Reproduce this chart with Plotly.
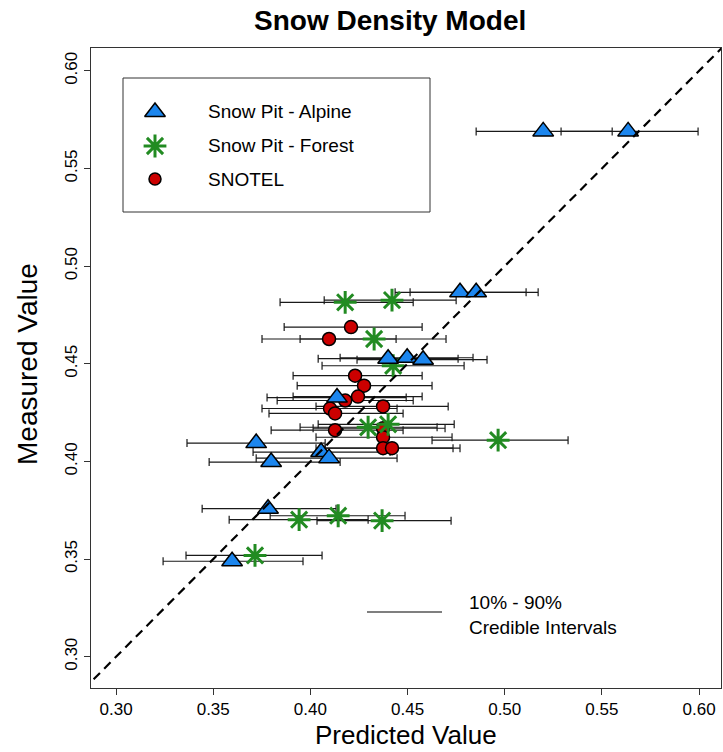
import plotly.graph_objects as go

# ---------------- data ----------------
# Snow Pit - Alpine
alp_pred = [0.5198, 0.5635, 0.4770, 0.4853, 0.4400, 0.4498, 0.4580, 0.4137,
            0.3721, 0.4055, 0.4096, 0.3798, 0.3782, 0.3597]
alp_meas = [0.5690, 0.5690, 0.4866, 0.4866, 0.4526, 0.4531, 0.4521, 0.4327,
            0.4094, 0.4048, 0.4017, 0.3997, 0.3758, 0.3489]
alp_lo = [0.4853, 0.5290, 0.4436, 0.4513, 0.4040, 0.4153, 0.4240, 0.3777,
          0.3365, 0.3705, 0.3721, 0.3479, 0.3443, 0.3242]
alp_hi = [0.5553, 0.5995, 0.5110, 0.5172, 0.4760, 0.4837, 0.4909, 0.4493,
          0.4076, 0.4410, 0.4446, 0.4153, 0.4132, 0.3962]

# Snow Pit - Forest
for_pred = [0.4179, 0.4420, 0.4328, 0.4426, 0.4297, 0.4400, 0.4966, 0.4143,
            0.3942, 0.4369, 0.3715]
for_meas = [0.4815, 0.4826, 0.4627, 0.4490, 0.4175, 0.4190, 0.4109, 0.3722,
            0.3702, 0.3697, 0.3519]
for_lo = [0.3844, 0.4071, 0.3947, 0.4060, 0.3947, 0.4040, 0.4626, 0.3793,
          0.3582, 0.4034, 0.3360]
for_hi = [0.4529, 0.4750, 0.4698, 0.4791, 0.4652, 0.4740, 0.5326, 0.4487,
          0.4297, 0.4724, 0.4060]

# SNOTEL
sno_pred = [0.4209, 0.4096, 0.4230, 0.4276, 0.4245, 0.4179, 0.4101, 0.4127,
            0.4374, 0.4127, 0.4374, 0.4374, 0.4374, 0.4420]
sno_meas = [0.4688, 0.4627, 0.4439, 0.4388, 0.4332, 0.4312, 0.4271, 0.4246,
            0.4282, 0.4160, 0.4170, 0.4124, 0.4068, 0.4068]
sno_lo = [0.3865, 0.3751, 0.3911, 0.3932, 0.3911, 0.3829, 0.3751, 0.3787,
          0.4029, 0.3798, 0.4014, 0.4029, 0.4029, 0.4076]
sno_hi = [0.4575, 0.4441, 0.4575, 0.4626, 0.4575, 0.4529, 0.4446, 0.4477,
          0.4709, 0.4477, 0.4693, 0.4729, 0.4734, 0.4770]

tick_vals = [0.30, 0.35, 0.40, 0.45, 0.50, 0.55, 0.60]
tick_text = ["0.30", "0.35", "0.40", "0.45", "0.50", "0.55", "0.60"]
legend_labels = ["Snow Pit - Alpine", "Snow Pit - Forest", "SNOTEL"]

X_RANGE = [0.2871, 0.6113]
Y_RANGE = [0.284, 0.6117]

# ---------------- styles ----------------
FONT = "Liberation Sans, Arial, sans-serif"
BLUE = "#1C86EE"
GREEN = "#228B22"
RED = "#CC0000"
BAR = "#1a1a1a"

# plot area in pixels: x 91..721, y 48..688
M_L, M_R, M_T, M_B = 91, 2, 48, 64
W, H = 723, 752
PW, PH = W - M_L - M_R, H - M_T - M_B
BOTTOM = H - M_B


def px_x(p):
    return (p - M_L) / PW


def px_y(p):
    return (BOTTOM - p) / PH


fig = go.Figure()


def err_trace(xs, ys, lo, hi):
    return go.Scatter(
        x=xs, y=ys, mode="markers",
        marker=dict(size=1, opacity=0),
        error_x=dict(type="data", symmetric=False,
                     array=[h - x for h, x in zip(hi, xs)],
                     arrayminus=[x - l for x, l in zip(xs, lo)],
                     color=BAR, thickness=1.2, width=4),
        showlegend=False, hoverinfo="skip")


# error bars first (drawn beneath all points)
fig.add_trace(err_trace(alp_pred, alp_meas, alp_lo, alp_hi))
fig.add_trace(err_trace(for_pred, for_meas, for_lo, for_hi))
fig.add_trace(err_trace(sno_pred, sno_meas, sno_lo, sno_hi))

circle_marker = dict(symbol="circle", size=13, color=RED,
                     line=dict(color="black", width=1.5))
star_marker = dict(symbol="asterisk-open", size=19, color=GREEN,
                   line=dict(color=GREEN, width=3))
tri_marker = dict(symbol="triangle-up", size=18, color=BLUE,
                  line=dict(color="black", width=1.5))

fig.add_trace(go.Scatter(x=sno_pred, y=sno_meas, mode="markers",
                         marker=circle_marker, name=legend_labels[2],
                         showlegend=False))
fig.add_trace(go.Scatter(x=for_pred, y=for_meas, mode="markers",
                         marker=star_marker, name=legend_labels[1],
                         showlegend=False))
fig.add_trace(go.Scatter(x=alp_pred, y=alp_meas, mode="markers",
                         marker=tri_marker, name=legend_labels[0],
                         showlegend=False))

# 1:1 line across the whole axis range
one_to_one = [min(X_RANGE[0], Y_RANGE[0]) - 0.05, max(X_RANGE[1], Y_RANGE[1]) + 0.05]
fig.add_trace(go.Scatter(x=one_to_one, y=one_to_one, mode="lines",
                         line=dict(color="black", width=2.2, dash="9px,6px"),
                         showlegend=False, hoverinfo="skip"))

# ---------------- manual legend (overlay axes spanning the plot area) ----------------
leg_x = px_x(155)
leg_rows = [px_y(112), px_y(146), px_y(179)]
leg_markers = [tri_marker, star_marker, dict(circle_marker, size=12)]
for yy, mk in zip(leg_rows, leg_markers):
    fig.add_trace(go.Scatter(x=[leg_x], y=[yy], mode="markers", marker=mk,
                             xaxis="x2", yaxis="y2", showlegend=False,
                             hoverinfo="skip", cliponaxis=False))

annotations = []
for yy, lab in zip(leg_rows, legend_labels):
    annotations.append(dict(x=px_x(206), y=yy, xref="paper", yref="paper",
                             text=lab, showarrow=False, xanchor="left",
                             yanchor="middle",
                             font=dict(family=FONT, size=19, color="black")))

# credible interval note
annotations.append(dict(x=px_x(467), y=px_y(615), xref="paper", yref="paper",
                        text="10% - 90%<br>Credible Intervals", showarrow=False,
                        xanchor="left", yanchor="middle", align="left",
                        font=dict(family=FONT, size=19, color="black")))

# title & axis titles
annotations.append(dict(x=px_x(390), y=px_y(20), xref="paper", yref="paper",
                        text="<b>Snow Density Model</b>", showarrow=False,
                        xanchor="center", yanchor="middle",
                        font=dict(family=FONT, size=28, color="black")))
annotations.append(dict(x=0.5, y=px_y(752), xref="paper", yref="paper",
                        text="Predicted Value", showarrow=False,
                        xanchor="center", yanchor="bottom",
                        font=dict(family=FONT, size=26, color="black")))
annotations.append(dict(x=px_x(27), y=px_y(364), xref="paper", yref="paper",
                        text="Measured Value", showarrow=False, textangle=-90,
                        xanchor="center", yanchor="middle",
                        font=dict(family=FONT, size=28, color="black")))

shapes = [
    dict(type="rect", xref="paper", yref="paper",
         x0=px_x(123), x1=px_x(430), y0=px_y(212), y1=px_y(78),
         line=dict(color="#333", width=1), fillcolor="rgba(0,0,0,0)"),
    dict(type="line", xref="paper", yref="paper",
         x0=px_x(367), x1=px_x(442), y0=px_y(612), y1=px_y(612),
         line=dict(color="black", width=1.2)),
]

axis_common = dict(showline=True, mirror=True, linecolor="#333", linewidth=1,
                   ticks="outside", ticklen=6, tickcolor="#333", tickwidth=1,
                   tickvals=tick_vals, ticktext=tick_text,
                   tickfont=dict(family=FONT, size=17, color="black"),
                   showgrid=False, zeroline=False)

fig.update_layout(
    width=W, height=H,
    margin=dict(l=M_L, r=M_R, t=M_T, b=M_B),
    paper_bgcolor="white", plot_bgcolor="white",
    xaxis=dict(range=X_RANGE, **axis_common),
    yaxis=dict(range=Y_RANGE, tickangle=-90, **axis_common),
    xaxis2=dict(range=[0, 1], overlaying="x", visible=False, fixedrange=True),
    yaxis2=dict(range=[0, 1], overlaying="y", visible=False, fixedrange=True),
    annotations=annotations,
    shapes=shapes,
    showlegend=False,
    font=dict(family=FONT),
)

fig.write_html(
    "out.html",
    config={"displayModeBar": False},
    post_script="document.body.style.margin='0';document.body.style.overflow='hidden';",
)
